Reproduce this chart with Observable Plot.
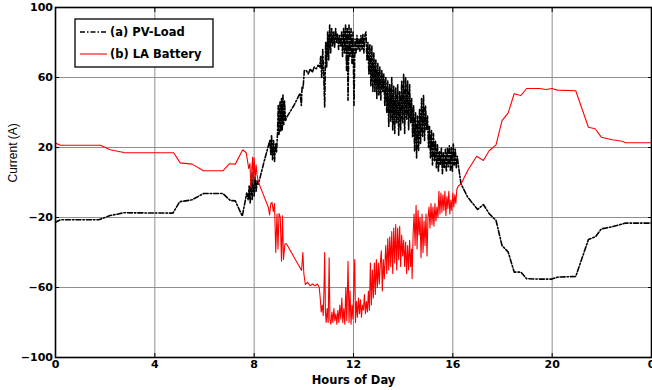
<!DOCTYPE html>
<html><head><meta charset="utf-8">
<script src="https://cdn.jsdelivr.net/npm/d3@7"></script>
<script src="https://cdn.jsdelivr.net/npm/@observablehq/plot@0.6"></script>
<style>body{margin:0;background:#fff} #chart{width:652px;height:390px}</style>
</head><body><div id="chart"></div>
<script>
// ---- tick values / labels ----
const xTicks = [0, 4, 8, 12, 16, 20, 24];
const xTickLabels = ["0", "4", "8", "12", "16", "20", "0"];
const yTicks = [-100, -60, -20, 20, 60, 100];
const xTitle = "Hours of Day";
const yTitle = "Current (A)";
const seriesNames = ["(a) PV-Load", "(b) LA Battery"];

// ---- (a) PV-Load : [hour, current A] ----
const pvMorning = [[0,-22.7],[0.2,-21.3],[1.74,-21.3],[2.2,-18.9],[2.75,-17.3],[4.73,-17.5],[5.0,-11.0],[5.5,-9.9],[5.96,-6.3],[6.74,-6.3],[7.04,-10.3],[7.24,-10.5],[7.52,-19.2]];
const pvMidday = [[7.62,-12],[7.70,-6],[7.76,-10],[7.80,-2],[7.84,-12],[7.88,4],[7.92,-10],[7.96,6],[8.00,-8],[8.04,3],[8.08,-5],[8.12,1],[8.17,-1],[8.40,12],[8.63,24],[8.67,16],[8.70,27],[8.74,13],[8.78,24],[8.82,12],[8.86,22],[8.90,17],[8.94,28],[8.97,44],[9.00,27],[9.04,46],[9.07,29],[9.10,48],[9.13,30],[9.16,50],[9.19,33],[9.22,47],[9.26,35],[9.30,37],[9.60,44],[9.85,51],[9.90,44],[9.93,55],[9.97,54],[10.02,64],[10.10,64],[10.18,62],[10.26,65],[10.34,63],[10.42,66],[10.50,65],[10.58,67],[10.64,66],[10.68,72],[10.72,60],[10.76,76],[10.80,62],[10.84,43],[10.88,80],[10.92,66],[10.96,86],[11.00,70],[11.04,90],[11.08,74],[11.12,88],[11.16,78],[11.20,86],[11.24,77],[11.28,88],[11.32,80],[11.36,85],[11.40,76],[11.44,84],[11.48,78],[11.52,86],[11.56,72],[11.60,88],[11.64,74],[11.68,90],[11.72,64],[11.75,88],[11.78,47],[11.82,90],[11.86,72],[11.90,88],[11.94,68],[11.98,86],[12.02,44],[12.06,82],[12.10,74],[12.14,84],[12.18,76],[12.22,82],[12.26,75],[12.30,84],[12.34,76],[12.38,85],[12.42,74],[12.46,84],[12.50,86],[12.54,70],[12.58,80],[12.62,62],[12.66,79],[12.70,55],[12.74,78],[12.78,52],[12.82,74],[12.86,52],[12.90,70],[12.94,48],[12.98,68],[13.02,50],[13.06,66],[13.10,47],[13.14,64],[13.18,52],[13.22,62],[13.26,44],[13.30,60],[13.34,40],[13.38,58],[13.42,32],[13.46,56],[13.50,35],[13.54,60],[13.58,30],[13.62,55],[13.66,28],[13.70,54],[13.74,34],[13.78,56],[13.82,27],[13.86,52],[13.90,30],[13.94,58],[13.98,34],[14.02,62],[14.06,28],[14.10,60],[14.14,36],[14.18,58],[14.22,30],[14.26,56],[14.30,34],[14.34,48],[14.38,26],[14.42,44],[14.46,18],[14.50,40],[14.54,14],[14.58,38],[14.62,18],[14.66,42],[14.70,22],[14.74,48],[14.78,26],[14.82,50],[14.86,24],[14.90,44],[14.94,30],[14.98,38],[15.02,20],[15.06,32],[15.10,14],[15.14,30],[15.18,10],[15.22,28],[15.26,12],[15.30,24],[15.34,8],[15.38,22],[15.42,6],[15.46,18],[15.50,10],[15.54,20],[15.58,5],[15.62,17],[15.66,8],[15.70,19],[15.74,6],[15.78,20],[15.82,9],[15.86,21],[15.90,7],[15.94,20],[15.98,6],[16.02,22],[16.06,10],[16.10,19],[16.14,8],[16.18,15],[16.22,10]];
const pvEvening = [[16.33,-0.8],[16.6,-8.4],[17.0,-15.4],[17.23,-12.6],[17.47,-17.9],[17.74,-21.7],[17.98,-36],[18.23,-39.8],[18.47,-51.2],[18.74,-51.2],[18.97,-55],[19.48,-55.2],[19.99,-55.2],[20.21,-54.1],[20.95,-53.7],[21.46,-32.6],[21.75,-30.9],[21.98,-26.5],[22.42,-25.3],[22.96,-23.2],[24,-23.2]];

// ---- (b) LA Battery : [hour, current A] ----
const batMorning = [[0,22.5],[0.2,21.3],[1.81,21.3],[2.2,18.7],[2.75,17.1],[4.76,17.0],[5.02,11.2],[5.5,10.5],[5.96,6.7],[6.74,6.7],[7.0,10.7],[7.24,10.5],[7.54,18.7],[7.68,17]];
const batMidday = [[7.78,8],[7.83,10.8],[7.87,-3],[7.91,9],[7.94,14.5],[7.97,-1],[8.00,14],[8.04,2],[8.08,10],[8.12,4],[8.17,0.2],[8.57,-14.1],[8.62,-18.5],[8.67,-12],[8.72,-11.4],[8.77,-16.6],[8.82,-12],[8.87,-40],[8.92,-18],[8.96,-38],[9.00,-17.7],[9.05,-20],[9.10,-45],[9.14,-19],[9.18,-44],[9.24,-35],[9.30,-35],[9.91,-50.3],[9.96,-40],[10.00,-52],[10.06,-58.3],[10.15,-57],[10.25,-59],[10.35,-58],[10.45,-59],[10.55,-58],[10.62,-60],[10.66,-66],[10.70,-74],[10.74,-70],[10.78,-76],[10.81,-62],[10.84,-40],[10.87,-74],[10.90,-80],[10.94,-72],[10.98,-80],[11.02,-43],[11.05,-78],[11.09,-81],[11.13,-74],[11.17,-80],[11.21,-72],[11.25,-79],[11.29,-75],[11.33,-81],[11.37,-73],[11.41,-80],[11.45,-70],[11.49,-78],[11.53,-66],[11.57,-80],[11.61,-72],[11.65,-81],[11.69,-60],[11.73,-79],[11.78,-45],[11.82,-80],[11.86,-62],[11.90,-81],[11.94,-70],[11.98,-78],[12.02,-55],[12.05,-44],[12.08,-80],[12.12,-68],[12.16,-77],[12.20,-66],[12.24,-75],[12.28,-67],[12.32,-77],[12.36,-70],[12.40,-73],[12.44,-64],[12.48,-75],[12.52,-68],[12.56,-74],[12.60,-62],[12.64,-73],[12.68,-46],[12.72,-70],[12.76,-50],[12.80,-66],[12.84,-46],[12.88,-64],[12.92,-44],[12.96,-60],[13.00,-46],[13.04,-58],[13.08,-46],[13.12,-39],[13.16,-62],[13.20,-44],[13.24,-55],[13.28,-42],[13.30,-36],[13.34,-52],[13.38,-32],[13.42,-50],[13.46,-31],[13.50,-48],[13.54,-28],[13.58,-52],[13.62,-26],[13.66,-46],[13.70,-24],[13.74,-50],[13.78,-26],[13.82,-44],[13.86,-25],[13.90,-48],[13.94,-30],[13.98,-42],[14.02,-33],[14.06,-48],[14.10,-34],[14.14,-52],[14.18,-36],[14.22,-50],[14.26,-33],[14.30,-48],[14.34,-38],[14.36,-55],[14.40,-30],[14.44,-18],[14.48,-36],[14.52,-13],[14.56,-38],[14.60,-16],[14.64,-30],[14.68,-20],[14.72,-43],[14.76,-18],[14.80,-40],[14.84,-22],[14.88,-36],[14.92,-18],[14.96,-42],[15.00,-20],[15.04,-14],[15.08,-26],[15.12,-12],[15.16,-24],[15.20,-14],[15.24,-25],[15.28,-12],[15.32,-22],[15.36,-14],[15.40,-20],[15.44,-5],[15.48,-18],[15.52,-6],[15.56,-17],[15.60,-7],[15.64,-16],[15.68,-5],[15.72,-19],[15.76,-8],[15.80,-15],[15.84,-5],[15.88,-18],[15.92,-10],[15.96,-16],[16.00,-6],[16.04,-14],[16.08,-7],[16.12,-12],[16.16,-4],[16.22,-2]];
const batEvening = [[16.33,-0.8],[16.6,6.9],[16.96,15.0],[17.23,12.6],[17.47,18.3],[17.74,21.5],[17.98,35.4],[18.23,39.8],[18.47,50.7],[18.74,49.7],[18.97,53.7],[19.48,53.7],[19.75,53.1],[19.99,53.7],[20.21,52.8],[20.95,52.4],[21.46,31.6],[21.73,30.7],[21.98,25.9],[22.42,24.4],[22.82,23.6],[22.96,22.7],[24,22.7]];

// ---- build tables ----
const toRows = (arr) => arr.map(([h, v]) => ({h, v}));
const pvRows = toRows([...pvMorning, ...pvMidday, ...pvEvening]);
const batRows = toRows([...batMorning, ...batMidday, ...batEvening]);

const tickFont = "'DejaVu Sans', sans-serif";
const gridColor = "#8f8f8f";
const pvStyle = {stroke: "black", strokeWidth: 1.6, strokeDasharray: "5,2,1.5,2"};
const batStyle = {stroke: "#ff0000", strokeWidth: 1.1};

const chart = Plot.plot({
  width: 652, height: 390,
  marginLeft: 55, marginRight: 1, marginTop: 7, marginBottom: 33,
  style: {fontFamily: tickFont, fontSize: "11px", fontWeight: "bold", background: "white", color: "black", overflow: "visible"},
  x: {domain: [0, 24], label: null},
  y: {domain: [-100, 100], label: null},
  marks: [
    Plot.gridX(xTicks, {stroke: gridColor, strokeOpacity: 1, strokeWidth: 1}),
    Plot.gridY(yTicks, {stroke: gridColor, strokeOpacity: 1, strokeWidth: 1}),
    Plot.line(pvRows, {x: "h", y: "v", ...pvStyle}),
    Plot.line(batRows, {x: "h", y: "v", ...batStyle}),
    Plot.frame({stroke: "black", strokeWidth: 1.6}),
    Plot.axisX(xTicks, {anchor: "bottom", tickSize: -4, tickPadding: 7, tickFormat: d => xTickLabels[xTicks.indexOf(d)], label: null}),
    Plot.axisX(xTicks, {anchor: "top", tickSize: -4, tickFormat: () => "", label: null}),
    Plot.axisY(yTicks, {anchor: "left", tickSize: -4, tickPadding: 6.5, label: null}),
    Plot.axisY(yTicks, {anchor: "right", tickSize: -4, tickFormat: () => "", label: null}),
    Plot.text([xTitle], {frameAnchor: "bottom", dy: 26, fontSize: 11.5, fontWeight: "bold", fontFamily: tickFont}),
    Plot.text([yTitle], {frameAnchor: "left", dx: -42, rotate: -90, fontSize: 12, fontWeight: "normal", fontFamily: "'Liberation Sans', Arial, sans-serif"})
  ]
});

// ---- legend (inside the axes, top-left) ----
const svg = d3.select(chart);
const lg = svg.append("g").attr("class", "legend").attr("text-anchor", "start");
lg.append("rect").attr("x", 75).attr("y", 19).attr("width", 138).attr("height", 48)
  .attr("fill", "white").attr("stroke", "black").attr("stroke-width", 1.3);
const legendStyles = [pvStyle, batStyle];
seriesNames.forEach((name, i) => {
  const y = 32 + i * 22;
  const s = legendStyles[i];
  lg.append("line").attr("x1", 80).attr("x2", 107).attr("y1", y).attr("y2", y)
    .attr("stroke", s.stroke).attr("stroke-width", s.strokeWidth)
    .attr("stroke-dasharray", s.strokeDasharray || null);
  lg.append("text").attr("x", 110).attr("y", y).attr("dy", "0.35em")
    .attr("text-anchor", "start")
    .attr("font-family", tickFont).attr("font-size", 11.5).attr("font-weight", "bold")
    .attr("fill", "black").text(name);
});

document.getElementById("chart").appendChild(chart);
</script>
</body></html>
